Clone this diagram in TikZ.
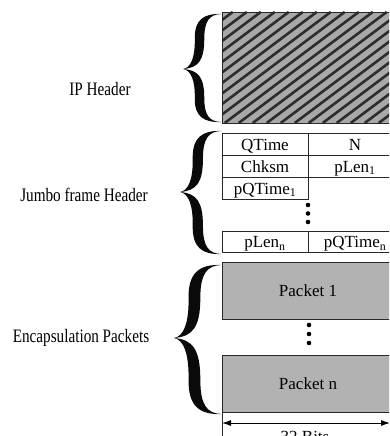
\documentclass[tikz,border=0pt]{standalone}
\usepackage{fontspec}
\setmainfont{Liberation Serif}
\newfontfamily\lblfont[FakeStretch=0.8]{Liberation Serif}
\usetikzlibrary{arrows.meta}
\definecolor{hatchbg}{RGB}{168,168,168}
\definecolor{hatchln}{RGB}{45,45,45}
\definecolor{pktfill}{RGB}{178,178,178}
\definecolor{edgecol}{RGB}{40,40,40}
\definecolor{bracecol}{RGB}{10,10,10}
\newcommand{\Brace}[5]{%
 \pgfmathsetmacro\bW{#1-#2}%
 \pgfmathsetmacro\bU{#4-#3}%
 \pgfmathsetmacro\bD{#5-#4}%
 \fill[bracecol] (#1,#3)
  .. controls ({#2+0.55*\bW},{#3-0.01*\bU}) and ({#2+0.3*\bW},{#3+0.1*\bU}) .. ({#2+0.31*\bW},{#3+0.45*\bU})
  .. controls ({#2+0.32*\bW},{#3+0.8*\bU}) and ({#2+0.2*\bW},{#4-0.02*\bU}) .. (#2,#4)
  .. controls ({#2+0.2*\bW},{#4+0.02*\bD}) and ({#2+0.32*\bW},{#5-0.8*\bD}) .. ({#2+0.31*\bW},{#5-0.45*\bD})
  .. controls ({#2+0.3*\bW},{#5-0.1*\bD}) and ({#2+0.55*\bW},{#5+0.01*\bD}) .. (#1,#5)
  .. controls ({#2+0.7*\bW},{#5-0.01*\bD}) and ({#2+0.56*\bW},{#5-0.12*\bD}) .. ({#2+0.56*\bW},{#5-0.45*\bD})
  .. controls ({#2+0.56*\bW},{#5-0.85*\bD}) and ({#2+0.4*\bW},{#4+0.02*\bD}) .. (#2,#4)
  .. controls ({#2+0.4*\bW},{#4-0.02*\bU}) and ({#2+0.56*\bW},{#3+0.85*\bU}) .. ({#2+0.56*\bW},{#3+0.45*\bU})
  .. controls ({#2+0.56*\bW},{#3+0.12*\bU}) and ({#2+0.7*\bW},{#3+0.01*\bU}) .. (#1,#3) -- cycle;}
\begin{document}
\begin{tikzpicture}[x=1pt,y=-1pt,
  lbl/.style={font=\lblfont\fontsize{19}{22}\selectfont, anchor=base, inner sep=0pt},
  cell/.style={font=\fontsize{17}{20}\selectfont, anchor=base, inner sep=0pt},
  grid/.style={draw=edgecol, line width=0.9pt},
  pkt/.style={draw=edgecol, line width=0.9pt, fill=pktfill, minimum width=172pt, minimum height=57pt, inner sep=0pt, font=\fontsize{17}{20}\selectfont},
  dot/.style={circle, fill=black, inner sep=0pt, minimum size=4.6pt}]
\useasboundingbox (0,0) rectangle (389,436);
\clip (0,0) rectangle (389,436);
% IP header hatched block
\fill[hatchbg] (222,12) rectangle (394,123);
\begin{scope}
  \clip (222,12) rectangle (394,123);
  \foreach \k in {-11,...,13} \draw[hatchln, line width=2.6pt] ({224.7+14*\k},123) -- ++(148,-111);
\end{scope}
\draw[grid] (222,12) rectangle (394,123);
% Jumbo frame header table
\draw[grid] (222,133) -- (394,133);
\draw[grid] (222,155) -- (394,155);
\draw[grid] (222,177) -- (394,177);
\draw[grid] (222,133) -- (222,199) -- (308,199) -- (308,133);
\draw[grid] (222,231) rectangle (394,252.5);
\draw[grid] (308,231) -- (308,252.5);
\node[cell] (qtime) at (265,150) {QTime};
\node[cell] (n) at (355,150) {N};
\node[cell] (chksm) at (265,172) {Chksm};
\node[cell] (plen1) at (355,172) {pLen\textsubscript{1}};
\node[cell] (pqtime1) at (265,194) {pQTime\textsubscript{1}};
\node[cell] (plenn) at (265,247.5) {pLen\textsubscript{n}};
\node[cell] (pqtimen) at (355,247.5) {pQTime\textsubscript{n}};
\node[dot] (d1) at (308,205) {};
\node[dot] (d2) at (308,213.5) {};
\node[dot] (d3) at (308,222) {};
% Packets
\node[pkt] (pkt1) at (308,290.5) {Packet 1};
\node[dot] (d4) at (309,325) {};
\node[dot] (d5) at (309,334) {};
\node[dot] (d6) at (309,343) {};
\node[pkt] (pktn) at (308,383.5) {Packet n};
% width arrow
\draw[edgecol, line width=0.9pt] (222,413) -- (222,436);
\coordinate (aL) at (222,423);
\coordinate (aR) at (390,423);
\draw[black, line width=0.9pt, {Latex[length=9pt,width=6pt]}-{Latex[length=9pt,width=6pt]}] (aL) -- (aR);
\node[cell] (bits) at (305,442) {32 Bits};
% braces
\Brace{221}{183}{14}{69}{122}
\Brace{221}{180}{131}{192}{254}
\Brace{221}{174}{265}{338}{414}
% labels
\node[lbl] (ip) at (100,95) {IP Header};
\node[lbl] (jumbo) at (84,201) {Jumbo frame Header};
\node[lbl] (encap) at (81,342) {Encapsulation Packets};
\end{tikzpicture}
\end{document}
